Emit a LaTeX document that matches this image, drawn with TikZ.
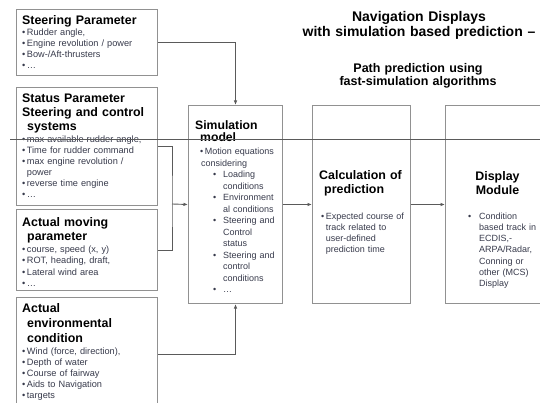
\documentclass[tikz,border=0pt]{standalone}
\usepackage{fontspec}
\setmainfont{Liberation Sans}
\usetikzlibrary{arrows.meta}

\definecolor{boxgray}{RGB}{145,145,145}
\definecolor{wiregray}{RGB}{90,90,90}
\definecolor{itemtext}{RGB}{55,58,75}

\newcommand\blt{\textbullet\hspace{1.5pt}}
\newcommand\hng{\hspace*{5pt}}
\newcommand\subblt{\makebox[10pt][l]{\textbullet}}

\begin{document}
\begin{tikzpicture}[x=1pt,y=-1pt,>={Latex[length=4.5pt,width=3.5pt]},
  panel/.style={draw=boxgray, line width=1pt, anchor=north west, inner sep=0pt},
  head/.style={anchor=base west, inner sep=0pt, text width=135pt, align=left,
    font=\bfseries\fontsize{12.4}{14}\selectfont},
  items/.style={anchor=base west, inner sep=0pt, text width=135pt, align=left,
    text=itemtext, font=\fontsize{9.2}{11}\selectfont},
  wire/.style={draw=wiregray, line width=0.9pt},
  title/.style={anchor=base, inner sep=0pt, text width=250pt, align=center,
    font=\bfseries\fontsize{12.5}{13}\selectfont}]
\useasboundingbox (0,0) rectangle (540,403);
\clip (0,0) rectangle (540,403);

% input boxes
\node[panel, minimum width=141pt, minimum height=66pt] (steer) at (16,9) {};
\node[panel, minimum width=141pt, minimum height=118pt] (status) at (16,87) {};
\node[panel, minimum width=141pt, minimum height=81pt] (moving) at (16,209) {};
\node[panel, minimum width=141pt, minimum height=113pt] (env) at (16,297) {};
% processing chain
\node[panel, minimum width=94pt, minimum height=198pt] (sim) at (188,105) {};
\node[panel, minimum width=98pt, minimum height=198pt] (calc) at (312,105) {};
\node[panel, minimum width=105pt, minimum height=198pt] (disp) at (445,105) {};

\node[title, font=\bfseries\fontsize{14}{14.5}\selectfont] (title) at (419,22)
  {Navigation Displays\\ with simulation based prediction –};
\node[title] (subtitle) at (418,73) {Path prediction using\\ fast-simulation algorithms};

\node[head] (steer head) at ([shift={(6,15.5)}]steer.north west) {Steering Parameter};
\node[items] (steer items) at ([shift={(6,27)}]steer.north west)
  {\blt Rudder angle,\\ \blt Engine revolution / power\\ \blt Bow-/Aft-thrusters\\ \blt …};

\node[head] (status head) at ([shift={(6,16)}]status.north west)
  {Status Parameter\\ Steering and control\\ \hng systems};
\node[items] (status items) at ([shift={(6,56)}]status.north west)
  {\blt max available rudder angle,\\ \blt Time for rudder command\\
   \blt max engine revolution /\\ \phantom{\blt}power\\ \blt reverse time engine\\ \blt …};

\node[head] (moving head) at ([shift={(6,17)}]moving.north west)
  {Actual moving\\ \hng parameter};
\node[items, font=\fontsize{9.2}{11.5}\selectfont] (moving items) at ([shift={(6,43)}]moving.north west)
  {\blt course, speed (x, y)\\ \blt ROT, heading, draft,\\ \blt Lateral wind area\\ \blt …};

\node[head, font=\bfseries\fontsize{12.4}{15}\selectfont] (env head) at ([shift={(6,15)}]env.north west)
  {Actual\\ \hng environmental\\ \hng condition};
\node[items] (env items) at ([shift={(6,57)}]env.north west)
  {\blt Wind (force, direction),\\ \blt Depth of water\\ \blt Course of fairway\\
   \blt Aids to Navigation\\ \blt targets};

\node[head, font=\bfseries\fontsize{12.2}{12.5}\selectfont] (sim head) at ([shift={(7,24.5)}]sim.north west)
  {Simulation\\ \hng model};
\node[items, text width=82pt, font=\fontsize{9}{11.5}\selectfont] (sim items) at ([shift={(12,50)}]sim.north west)
  {\blt Motion equations\\ \hspace*{1pt}considering\\
   \hspace*{13pt}\subblt Loading\\ \hspace*{23pt}conditions\\
   \hspace*{13pt}\subblt Environment\\ \hspace*{23pt}al conditions\\
   \hspace*{13pt}\subblt Steering and\\ \hspace*{23pt}Control\\ \hspace*{23pt}status\\
   \hspace*{13pt}\subblt Steering and\\ \hspace*{23pt}control\\ \hspace*{23pt}conditions\\
   \hspace*{13pt}\subblt …};

\node[head] (calc head) at ([shift={(7,75)}]calc.north west)
  {Calculation of\\ \hng prediction};
\node[items, text width=88pt, font=\fontsize{9}{11}\selectfont] (calc items) at ([shift={(9,114)}]calc.north west)
  {\blt Expected course of\\ \phantom{\blt}track related to\\
   \phantom{\blt}user-defined\\ \phantom{\blt}prediction time};

\node[head, anchor=base, text width=100pt, align=center] (disp head) at ([shift={(52.5,76)}]disp.north west)
  {Display\\ Module};
\node[items, text width=80pt, font=\fontsize{9}{11.3}\selectfont] (disp items) at ([shift={(23,114)}]disp.north west)
  {\makebox[11pt][l]{\textbullet}Condition\\ \hspace*{11pt}based track in\\
   \hspace*{11pt}ECDIS,-\\ \hspace*{11pt}ARPA/Radar,\\ \hspace*{11pt}Conning or\\
   \hspace*{11pt}other (MCS)\\ \hspace*{11pt}Display};

% connectors
\coordinate (merge) at (172,204);
\draw[wire,->] (steer.east) -| (sim.north);
\draw[wire] (status.east) -| (merge) |- (moving.east);
\draw[wire,->] (merge) -- (sim.west);
\draw[wire,->] (env.east) -| (sim.south);
\draw[wire,->] (sim.east) -- (calc.west);
\draw[wire,->] (calc.east) -- (disp.west);

% stray rule across the page
\coordinate (rule start) at (10,139);
\coordinate (rule end) at (545,139);
\draw[wire] (rule start) -- (rule end);
\end{tikzpicture}
\end{document}
